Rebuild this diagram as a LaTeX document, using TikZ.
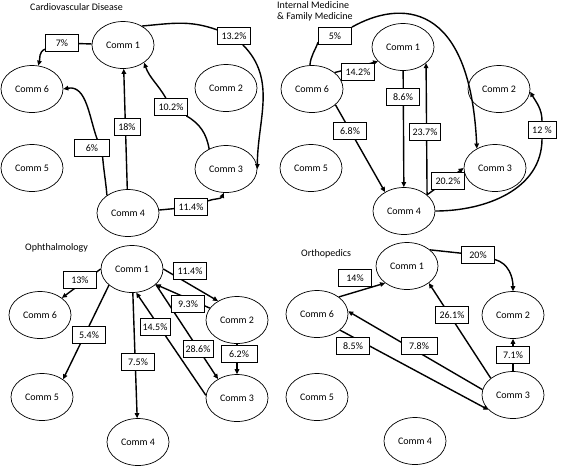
\documentclass[tikz,border=0pt]{standalone}
\usepackage{fontspec}
\setmainfont{Carlito}
\usetikzlibrary{arrows.meta,shapes.geometric}

\begin{document}
\begin{tikzpicture}[x=1pt,y=1pt,
    font=\fontsize{10}{11}\selectfont,
    comm/.style={draw,ellipse,line width=0.7pt,minimum width=62pt,
      minimum height=47pt,inner sep=0pt},
    pct/.style={draw,fill=white,line width=0.8pt,minimum width=33pt,
      minimum height=17pt,inner sep=2pt},
    link/.style={line width=1.4pt,-{Triangle[length=5pt,width=4.5pt]}},
    title/.style={anchor=west,inner sep=0pt,align=left}]
  \useasboundingbox (0,0) rectangle (567,-467);

  %% Cardiovascular Disease (top left).
  \node[title] (ta) at (30,-7) {Cardiovascular Disease};
  \foreach \n/\x/\y in {1/123/45,2/226/88,3/226/169,4/128/213,5/32/168,6/32/89} {
    \node[comm] (a\n) at (\x,-\y) {Comm \n};
  }
  \draw[link] (a4) -- (a1);
  % labels
  \node[pct] (a17) at (62,-43) {7\%};
  \node[pct] (a13) at (234,-36) {13.2\%};
  \node[pct] (a31) at (171,-107) {10.2\%};
  \node[pct,minimum width=26pt] (a41) at (127,-127) {18\%};
  \node[pct,minimum width=35pt] (a46) at (92,-148) {6\%};
  \node[pct] (a43) at (191,-207) {11.4\%};
  % curved links
  \draw[link] (a1) -- (a17) to[out=200,in=75] (a6);
  \draw[link] (a1.45) to[out=5,in=160] (a13) to[out=-45,in=90] (a3.east);
  \draw[link] (a3.130) to[out=100,in=-30] (a31) to[out=120,in=-70] (a1.-40);
  \draw[link] (a4.140) to[out=95,in=-85] (a46.-40) (a46.60) to[out=110,in=10] (a6.east);
  \draw[link] (a4) -- (a43) to[out=20,in=-115] (a3.-95);

  %% Internal Medicine & Family Medicine (top right).
  \node[title] (tb) at (277,-11.5) {Internal Medicine\\\& Family Medicine};
  \foreach \n/\x/\y in {1/403/47,2/499/89,3/495/168,4/404/211,5/311/168,6/312/89} {
    \node[comm] (b\n) at (\x,-\y) {Comm \n};
  }
  \draw[link] (b6.36) -- (b1.210);
  \draw[link] (b1) -- (b4);
  \draw[link] (b4.35) -- (b1.-35);
  \draw[link] (b6.-34) -- (b4.135);
  \draw[link] (b4.35) -- (b3.west);
  % labels
  \node[pct] (b65) at (335,-36) {5\%};
  \node[pct] (b61) at (358,-72) {14.2\%};
  \node[pct] (b14) at (403,-97) {8.6\%};
  \node[pct,minimum width=31pt] (b41) at (425,-132) {23.7\%};
  \node[pct] (b64) at (350,-131) {6.8\%};
  \node[pct] (b43) at (448,-181) {20.2\%};
  \node[pct,minimum width=28pt] (b42) at (542,-130) {12 \%};
  % curved links
  \draw[link] (b6.95) to[out=85,in=-110] (b65.200)
    (b65.north east) .. controls (400,0) and (470,0) .. (b3.133);
  \draw[link] (b4.east) to[out=0,in=-90] (b42) to[out=90,in=-60] (b2.-5);

  %% Ophthalmology (bottom left).
  \node[title] (tc) at (25,-248) {Ophthalmology};
  \foreach \n/\x/\y in {1/132/269,2/237/320,3/237/398,4/138/442,5/42/397,6/40/315} {
    \node[comm] (c\n) at (\x,-\y) {Comm \n};
  }
  \draw[link] (c1.west) -- (c6.38);
  \draw[link] (c1.east) -- (c2.135);
  \draw[link] (c2) -- (c1.-33);
  \draw[link] (c3.175) -- (c1.-80);
  \draw[link] (c1.-145) -- (c5.40);
  \draw[link] (c1.-33) -- (c3.135);
  \draw[link] (c2) -- (c3);
  \draw[link] (c1) -- (c4);
  % labels
  \node[pct] (c16) at (80,-280) {13\%};
  \node[pct] (c12) at (190,-271) {11.4\%};
  \node[pct] (c21) at (188,-304) {9.3\%};
  \node[pct,minimum width=30pt] (c31) at (155,-327) {14.5\%};
  \node[pct] (c15) at (89,-335) {5.4\%};
  \node[pct,minimum width=30pt] (c13) at (198,-349) {28.6\%};
  \node[pct,minimum width=36pt] (c23) at (239,-354) {6.2\%};
  \node[pct] (c14) at (138,-362) {7.5\%};

  %% Orthopedics (bottom right).
  \node[title] (td) at (301,-254) {Orthopedics};
  \foreach \n/\x/\y in {1/407/266,2/513/315,3/513/395,4/415/441,5/317/397,6/317/314} {
    \node[comm] (d\n) at (\x,-\y) {Comm \n};
  }
  \draw[link] (d6.38) -- (d1.-142);
  \draw[link] (d3.143) -- (d1.-38);
  \draw[link] (d6.-35) -- (d3.211);
  \draw[link] (d3.170) -- (d6.5);
  \draw[link] (d3) -- (d2);
  % labels
  \node[pct] (d12) at (478,-255) {20\%};
  \node[pct] (d61) at (355,-278) {14\%};
  \node[pct] (d31) at (452,-315) {26.1\%};
  \node[pct] (d63) at (353,-346) {8.5\%};
  \node[pct,minimum width=36pt] (d36) at (419,-346) {7.8\%};
  \node[pct] (d32) at (513,-355) {7.1\%};
  % curved link
  \draw[link] (d1.35) -- (d12) to[out=-15,in=90] (d2.north);
\end{tikzpicture}
\end{document}
